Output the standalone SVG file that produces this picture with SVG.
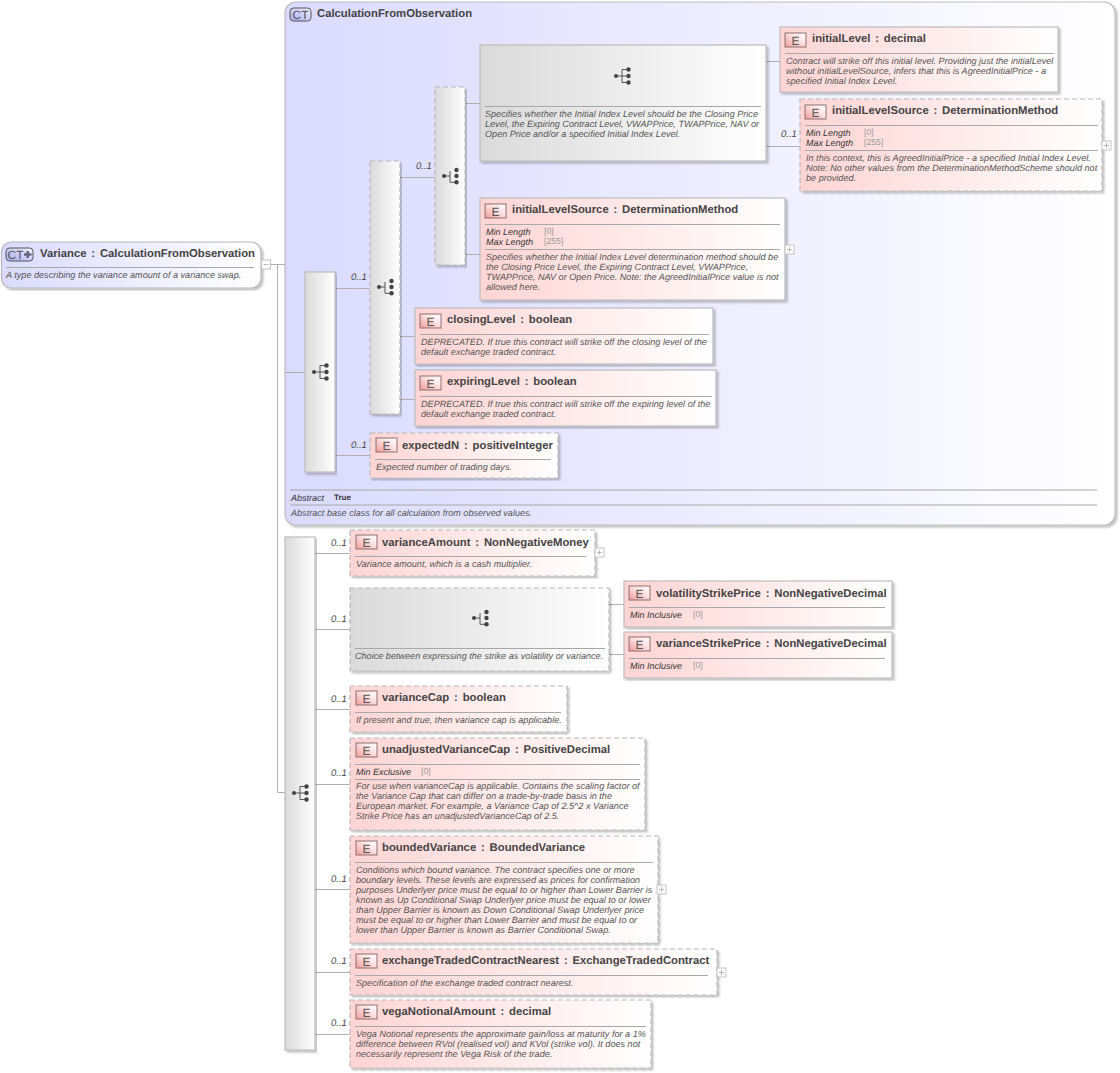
<svg xmlns="http://www.w3.org/2000/svg" width="1120" height="1073" viewBox="0 0 1120 1073">
<style>
text{font-family:"Liberation Sans",Arial,sans-serif;text-rendering:geometricPrecision}
.t{font-size:11.3px;font-weight:700;fill:#444;word-spacing:1.7px}
.d{font-size:9.1px;font-style:italic;fill:#555}
.k{font-size:9px;font-style:italic;fill:#333}
.v{font-size:8.7px;fill:#999}
.m{font-size:9.5px;font-style:italic;fill:#444}
.b{font-size:12px;fill:#555;text-anchor:middle}
.s{stroke:#a8a8a8;stroke-width:1;fill:none}
.c{stroke:#b0b0b0;stroke-width:1;fill:none}
.solid{stroke:#bdbdbd;stroke-width:1.2}
.dash{stroke:#b8b8b8;stroke-width:1.2;stroke-dasharray:5 3}
.e{fill:url(#eg)}
.g{fill:url(#gg)}
.x{fill:#fff;stroke:#c4c4c4;stroke-width:1}
.xl{stroke:#aaa;stroke-width:.8;fill:none}
.sh{filter:url(#sh)}
</style>
<defs>
<linearGradient id="eg" x1="0" y1="0" x2="1" y2="0"><stop offset="0" stop-color="#ffd4d4"/><stop offset="1" stop-color="#fff"/></linearGradient>
<linearGradient id="gg" x1="0" y1="0" x2="1" y2="0"><stop offset="0" stop-color="#dadada"/><stop offset="1" stop-color="#fff"/></linearGradient>
<linearGradient id="pg" x1="0" y1="0" x2="1" y2="0"><stop offset="0" stop-color="#dadaff"/><stop offset="1" stop-color="#fff"/></linearGradient>
<linearGradient id="bg" x1="0" y1="1" x2="1" y2="0"><stop offset="0" stop-color="#f09a9a"/><stop offset=".6" stop-color="#fde4e4"/><stop offset="1" stop-color="#fff"/></linearGradient>
<linearGradient id="cb" x1="0" y1="1" x2="1" y2="0"><stop offset="0" stop-color="#a8a8f4"/><stop offset="1" stop-color="#f2f2ff"/></linearGradient>
<filter id="sh" x="-5%" y="-5%" width="110%" height="110%"><feDropShadow dx="2" dy="2" stdDeviation="1.3" flood-color="#000" flood-opacity=".25"/></filter>
<g id="seq"><path d="M-6 0H0M0-6.500V6.500M0-6.500H6M0 0H6M0 6.500H6" stroke="#555" stroke-width="1" fill="none"/><circle cx="-6" cy="0" r="2" fill="#444"/><circle cx="6.500" cy="-6.500" r="2.200" fill="#444"/><circle cx="6.500" cy="0" r="2.200" fill="#444"/><circle cx="6.500" cy="6.500" r="2.200" fill="#444"/></g>
<g id="cho"><path d="M-6 0H0M0-5V6.300H6" stroke="#555" stroke-width="1" fill="none"/><circle cx="-6" cy="0" r="2" fill="#444"/><circle cx="6.500" cy="-6" r="2.200" fill="#444"/><circle cx="6.500" cy="0" r="2.200" fill="#444"/><circle cx="6.500" cy="6.300" r="2.200" fill="#444"/></g>
<g id="E"><rect x="0" y="0" width="21" height="14" fill="url(#bg)" stroke="#8c7070" stroke-width="1"/><text class="b" x="10.500" y="11.500">E</text></g>
<g id="plus"><rect x="0" y="0" width="9" height="9" class="x"/><path class="xl" d="M2 4.500H7M4.500 2V7"/></g>
</defs>

<g id="panel-CalculationFromObservation">
<rect class="sh" x="285" y="2" width="830" height="523" rx="11" fill="url(#pg)" stroke="#bdbdbd" stroke-width="1.200"/>
<rect x="290" y="8" width="21" height="13" rx="3.500" fill="url(#cb)" stroke="#555"/>
<text x="300.500" y="18.500" class="b">CT</text>
<text class="t" x="317" y="17">CalculationFromObservation</text>
<path class="s" d="M290 490H1097M290 505H1097"/>
<text class="k" x="291" y="501">Abstract</text>
<text x="334" y="500" font-size="8" font-weight="700" fill="#333">True</text>
<text class="d" x="291" y="516">Abstract base class for all calculation from observed values.</text>
</g>

<g id="connectors">
<path class="c" d="M271 264.500H285M277.500 264V792.500H285M285 372.500H305M335 288.500H370M400 177.500H435M465 103.500H480M465 254.500H480M766 61.500H780M766 146.500H800M400 336.500H415M400 399.500H415M335 455.500H370"/>
<path class="c" d="M315 553.500H350M315 629.500H350M609 604.500H624M609 654.500H624M315 709.500H350M315 784.500H350M315 889.500H350M315 972.500H350M315 1034.500H350"/>
<g>
<text class="m" x="351" y="280">0..1</text><text class="m" x="416" y="169">0..1</text><text class="m" x="781" y="137">0..1</text><text class="m" x="351" y="448">0..1</text>
<text class="m" x="331" y="546">0..1</text><text class="m" x="331" y="622">0..1</text><text class="m" x="331" y="702">0..1</text><text class="m" x="331" y="776">0..1</text><text class="m" x="331" y="882">0..1</text><text class="m" x="331" y="964">0..1</text><text class="m" x="331" y="1026">0..1</text>
</g>
</g>

<g id="Variance">
<rect class="sh" x="1.500" y="242" width="259.500" height="46" rx="10" fill="url(#pg)" stroke="#b8b8b8" stroke-width="1.200"/>
<rect x="6" y="248" width="27" height="13" rx="3.500" fill="url(#cb)" stroke="#555"/>
<text class="b" x="15.500" y="258.500">CT</text>
<path d="M24 254.500H31.500M27.700 251V258" stroke="#667" stroke-width="2.500" fill="none"/>
<text class="t" x="40" y="257">Variance : CalculationFromObservation</text>
<path class="s" d="M6 267.500H254"/>
<text class="d" x="6" y="278">A type describing the variance amount of a variance swap.</text>
<rect x="261.500" y="260" width="9" height="9" class="x"/><path class="xl" d="M263.500 264.500H268.500"/>
</g>

<g id="seq1"><rect class="g sh solid" x="305" y="272" width="30" height="200"/><use href="#seq" x="320" y="372"/></g>
<g id="choice1"><rect class="g sh dash" x="370" y="161" width="30" height="253"/><use href="#cho" x="385" y="287"/></g>
<g id="choice2"><rect class="g sh dash" x="435" y="87" width="30" height="178"/><use href="#cho" x="450" y="176"/></g>

<g id="seq3"><rect class="g sh solid" x="480" y="45" width="286" height="116"/><use href="#seq" x="622" y="76"/>
<path class="s" d="M485 106.500H761"/>
<text class="d" x="485" y="117">Specifies whether the Initial Index Level should be the Closing Price</text>
<text class="d" x="485" y="127">Level, the Expiring Contract Level, VWAPPrice, TWAPPrice, NAV or</text>
<text class="d" x="485" y="137">Open Price and/or a specified Initial Index Level.</text></g>

<g id="initialLevel"><rect class="e sh solid" x="780" y="27" width="278" height="65"/><use href="#E" x="785" y="33"/>
<text class="t" x="812" y="42">initialLevel : decimal</text><path class="s" d="M785 53.500H1054"/>
<text class="d" x="786" y="64">Contract will strike off this initial level. Providing just the initialLevel</text>
<text class="d" x="786" y="74">without initialLevelSource, infers that this is AgreedInitialPrice - a</text>
<text class="d" x="786" y="84">specified Initial Index Level.</text></g>

<g id="initialLevelSource-a"><rect class="e sh dash" x="800" y="99" width="302" height="92"/><use href="#E" x="805" y="105"/>
<text class="t" x="832" y="114">initialLevelSource : DeterminationMethod</text><path class="s" d="M805 125.500H1098"/>
<text class="k" x="806" y="136">Min Length</text><text class="v" x="864" y="135">[0]</text>
<text class="k" x="806" y="146">Max Length</text><text class="v" x="864" y="145">[255]</text><path class="s" d="M805 150.500H1098"/>
<text class="d" x="806" y="161">In this context, this is AgreedInitialPrice - a specified Initial Index Level.</text>
<text class="d" x="806" y="171">Note: No other values from the DeterminationMethodScheme should not</text>
<text class="d" x="806" y="181">be provided.</text>
<use href="#plus" x="1102" y="141"/></g>

<g id="initialLevelSource-b"><rect class="e sh solid" x="480" y="198" width="305" height="102"/><use href="#E" x="485" y="204"/>
<text class="t" x="512" y="213">initialLevelSource : DeterminationMethod</text><path class="s" d="M485 224.500H780"/>
<text class="k" x="486" y="235">Min Length</text><text class="v" x="544" y="234">[0]</text>
<text class="k" x="486" y="245">Max Length</text><text class="v" x="544" y="244">[255]</text><path class="s" d="M485 249.500H780"/>
<text class="d" x="486" y="260">Specifies whether the Initial Index Level determination method should be</text>
<text class="d" x="486" y="270">the Closing Price Level, the Expiring Contract Level, VWAPPrice,</text>
<text class="d" x="486" y="280">TWAPPrice, NAV or Open Price. Note: the AgreedInitialPrice value is not</text>
<text class="d" x="486" y="290">allowed here.</text>
<use href="#plus" x="785" y="245"/></g>

<g id="closingLevel"><rect class="e sh solid" x="415" y="308" width="298" height="56"/><use href="#E" x="420" y="314"/>
<text class="t" x="447" y="323">closingLevel : boolean</text><path class="s" d="M420 334.500H709"/>
<text class="d" x="421" y="345">DEPRECATED. If true this contract will strike off the closing level of the</text>
<text class="d" x="421" y="355">default exchange traded contract.</text></g>

<g id="expiringLevel"><rect class="e sh solid" x="415" y="370" width="301" height="56"/><use href="#E" x="420" y="376"/>
<text class="t" x="447" y="385">expiringLevel : boolean</text><path class="s" d="M420 396.500H712"/>
<text class="d" x="421" y="407">DEPRECATED. If true this contract will strike off the expiring level of the</text>
<text class="d" x="421" y="417">default exchange traded contract.</text></g>

<g id="expectedN"><rect class="e sh dash" x="370" y="433" width="188" height="45"/><use href="#E" x="376" y="438"/>
<text class="t" x="402" y="449">expectedN : positiveInteger</text><path class="s" d="M375 459.500H551"/>
<text class="d" x="376" y="470">Expected number of trading days.</text></g>

<g id="seq2"><rect class="g sh solid" x="285" y="537" width="30" height="513"/><use href="#seq" x="300" y="793"/></g>

<g id="varianceAmount"><rect class="e sh dash" x="350" y="530" width="245" height="46"/><use href="#E" x="356" y="535"/>
<text class="t" x="382" y="546">varianceAmount : NonNegativeMoney</text><path class="s" d="M355 556.500H586"/>
<text class="d" x="356" y="567">Variance amount, which is a cash multiplier.</text>
<use href="#plus" x="595" y="548"/></g>

<g id="choice3"><rect class="g sh dash" x="350" y="588" width="259" height="83"/><use href="#cho" x="480" y="618"/>
<path class="s" d="M355 648.500H605"/>
<text class="d" x="355" y="659">Choice between expressing the strike as volatility or variance.</text></g>

<g id="volatilityStrikePrice"><rect class="e sh solid" x="624" y="581" width="268" height="46"/><use href="#E" x="629" y="586"/>
<text class="t" x="656" y="597">volatilityStrikePrice : NonNegativeDecimal</text><path class="s" d="M629 607.500H885"/>
<text class="k" x="630" y="618">Min Inclusive</text><text class="v" x="693" y="617">[0]</text></g>

<g id="varianceStrikePrice"><rect class="e sh solid" x="624" y="632" width="268" height="46"/><use href="#E" x="629" y="637"/>
<text class="t" x="656" y="647">varianceStrikePrice : NonNegativeDecimal</text><path class="s" d="M629 658.500H885"/>
<text class="k" x="630" y="669">Min Inclusive</text><text class="v" x="693" y="668">[0]</text></g>

<g id="varianceCap"><rect class="e sh dash" x="350" y="686" width="217" height="46"/><use href="#E" x="356" y="691"/>
<text class="t" x="382" y="701">varianceCap : boolean</text><path class="s" d="M355 712.500H561"/>
<text class="d" x="356" y="723">If present and true, then variance cap is applicable.</text></g>

<g id="unadjustedVarianceCap"><rect class="e sh dash" x="350" y="738" width="295" height="92"/><use href="#E" x="356" y="743"/>
<text class="t" x="382" y="753">unadjustedVarianceCap : PositiveDecimal</text><path class="s" d="M355 764.500H640"/>
<text class="k" x="356" y="775">Min Exclusive</text><text class="v" x="421" y="774">[0]</text><path class="s" d="M355 779.500H640"/>
<text class="d" x="356" y="789">For use when varianceCap is applicable. Contains the scaling factor of</text>
<text class="d" x="356" y="799">the Variance Cap that can differ on a trade-by-trade basis in the</text>
<text class="d" x="356" y="809">European market. For example, a Variance Cap of 2.5^2 x Variance</text>
<text class="d" x="356" y="819">Strike Price has an unadjustedVarianceCap of 2.5.</text></g>

<g id="boundedVariance"><rect class="e sh dash" x="350" y="836" width="308" height="107"/><use href="#E" x="356" y="841"/>
<text class="t" x="382" y="851">boundedVariance : BoundedVariance</text><path class="s" d="M355 862.500H653"/>
<text class="d" x="356" y="873">Conditions which bound variance. The contract specifies one or more</text>
<text class="d" x="356" y="883">boundary levels. These levels are expressed as prices for confirmation</text>
<text class="d" x="356" y="893">purposes Underlyer price must be equal to or higher than Lower Barrier is</text>
<text class="d" x="356" y="903">known as Up Conditional Swap Underlyer price must be equal to or lower</text>
<text class="d" x="356" y="913">than Upper Barrier is known as Down Conditional Swap Underlyer price</text>
<text class="d" x="356" y="923">must be equal to or higher than Lower Barrier and must be equal to or</text>
<text class="d" x="356" y="933">lower than Upper Barrier is known as Barrier Conditional Swap.</text>
<use href="#plus" x="657" y="885"/></g>

<g id="exchangeTradedContractNearest"><rect class="e sh dash" x="350" y="949" width="367" height="46"/><use href="#E" x="356" y="954"/>
<text class="t" x="382" y="964">exchangeTradedContractNearest : ExchangeTradedContract</text><path class="s" d="M355 975.500H708"/>
<text class="d" x="356" y="986">Specification of the exchange traded contract nearest.</text>
<use href="#plus" x="717" y="968"/></g>

<g id="vegaNotionalAmount"><rect class="e sh dash" x="350" y="1000" width="301" height="68"/><use href="#E" x="356" y="1005"/>
<text class="t" x="382" y="1015">vegaNotionalAmount : decimal</text><path class="s" d="M355 1026.500H646"/>
<text class="d" x="356" y="1037">Vega Notional represents the approximate gain/loss at maturity for a 1%</text>
<text class="d" x="356" y="1047">difference between RVol (realised vol) and KVol (strike vol). It does not</text>
<text class="d" x="356" y="1057">necessarily represent the Vega Risk of the trade.</text></g>
</svg>
